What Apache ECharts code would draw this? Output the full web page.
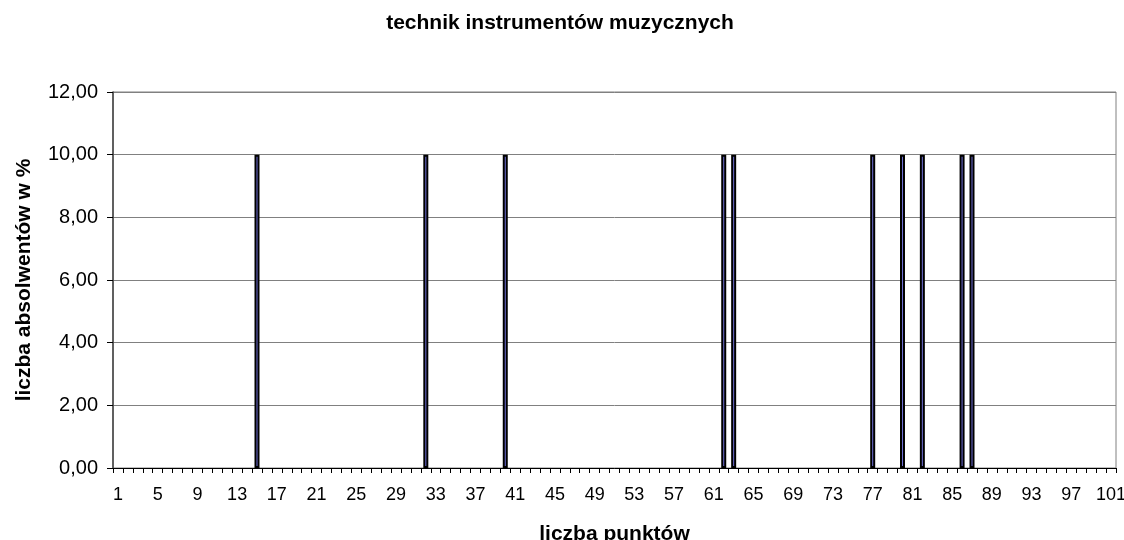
<!DOCTYPE html>
<html>
<head>
<meta charset="utf-8">
<script src="https://cdn.jsdelivr.net/npm/echarts@6/dist/echarts.min.js"></script>
<style>
  html, body { margin: 0; padding: 0; background: #ffffff; }
  #chart { width: 1124px; height: 540px; }
</style>
</head>
<body>
<div id="chart"></div>
<script>
// Points scale 1..101 (one category per point value)
const punkty = [
  1, 2, 3, 4, 5, 6, 7, 8, 9, 10, 11, 12, 13, 14, 15, 16, 17, 18, 19, 20,
  21, 22, 23, 24, 25, 26, 27, 28, 29, 30, 31, 32, 33, 34, 35, 36, 37, 38, 39, 40,
  41, 42, 43, 44, 45, 46, 47, 48, 49, 50, 51, 52, 53, 54, 55, 56, 57, 58, 59, 60,
  61, 62, 63, 64, 65, 66, 67, 68, 69, 70, 71, 72, 73, 74, 75, 76, 77, 78, 79, 80,
  81, 82, 83, 84, 85, 86, 87, 88, 89, 90, 91, 92, 93, 94, 95, 96, 97, 98, 99, 100,
  101
];

// Share of graduates (%) per point value
const procentAbsolwentow = [
  0, 0, 0, 0, 0, 0, 0, 0, 0, 0, 0, 0, 0, 0, 10, 0, 0, 0, 0, 0,
  0, 0, 0, 0, 0, 0, 0, 0, 0, 0, 0, 10, 0, 0, 0, 0, 0, 0, 0, 10,
  0, 0, 0, 0, 0, 0, 0, 0, 0, 0, 0, 0, 0, 0, 0, 0, 0, 0, 0, 0,
  0, 10, 10, 0, 0, 0, 0, 0, 0, 0, 0, 0, 0, 0, 0, 0, 10, 0, 0, 10,
  0, 10, 0, 0, 0, 10, 10, 0, 0, 0, 0, 0, 0, 0, 0, 0, 0, 0, 0, 0,
  0
];

const yTicks = { min: 0, max: 12, interval: 2 };

const fontFamily = '"Liberation Sans", Arial, sans-serif';
const chart = echarts.init(document.getElementById('chart'));

// empty point values get no bar (avoids a zero-height outlined stub)
const barData = procentAbsolwentow.map(v => (v === 0 ? '-' : v));

chart.setOption({
  animation: false,
  backgroundColor: '#ffffff',
  title: {
    text: 'technik instrumentów muzycznych',
    left: 555,
    textAlign: 'center',
    top: 8,
    textStyle: { fontFamily, fontSize: 21, fontWeight: 'bold', color: '#000' }
  },
  grid: {
    left: 113, right: 8, top: 92, bottom: 72,
    outerBoundsMode: 'none',
    show: true, borderColor: '#808080', borderWidth: 1, backgroundColor: '#ffffff'
  },
  xAxis: {
    type: 'category',
    data: punkty,
    boundaryGap: true,
    name: 'liczba punktów',
    nameLocation: 'middle',
    nameGap: 56,
    nameTextStyle: { fontFamily, fontSize: 21, fontWeight: 'bold', color: '#000' },
    axisLine: { lineStyle: { color: '#000', width: 1 } },
    axisTick: { show: true, interval: 0, length: 5, inside: false, lineStyle: { color: '#000' } },
    axisLabel: { interval: 3, fontFamily, fontSize: 18, color: '#000', margin: 18 },
    splitLine: { show: false }
  },
  yAxis: {
    type: 'value',
    min: yTicks.min, max: yTicks.max, interval: yTicks.interval,
    name: 'liczba absolwentów w %',
    nameLocation: 'middle',
    nameGap: 78,
    nameTextStyle: { fontFamily, fontSize: 21, fontWeight: 'bold', color: '#000' },
    axisLine: { show: true, lineStyle: { color: '#404040', width: 1.5 } },
    axisTick: { show: true, length: 6, inside: false, lineStyle: { color: '#000' } },
    axisLabel: {
      fontFamily, fontSize: 20, color: '#000', margin: 15,
      formatter: v => v.toFixed(2).replace('.', ',')
    },
    splitLine: { show: true, lineStyle: { color: '#808080', width: 1 } }
  },
  series: [{
    type: 'bar',
    data: barData,
    barWidth: 5,
    itemStyle: { color: '#6f6fd6', borderColor: '#000', borderWidth: 2 }
  }]
});
</script>
</body>
</html>
